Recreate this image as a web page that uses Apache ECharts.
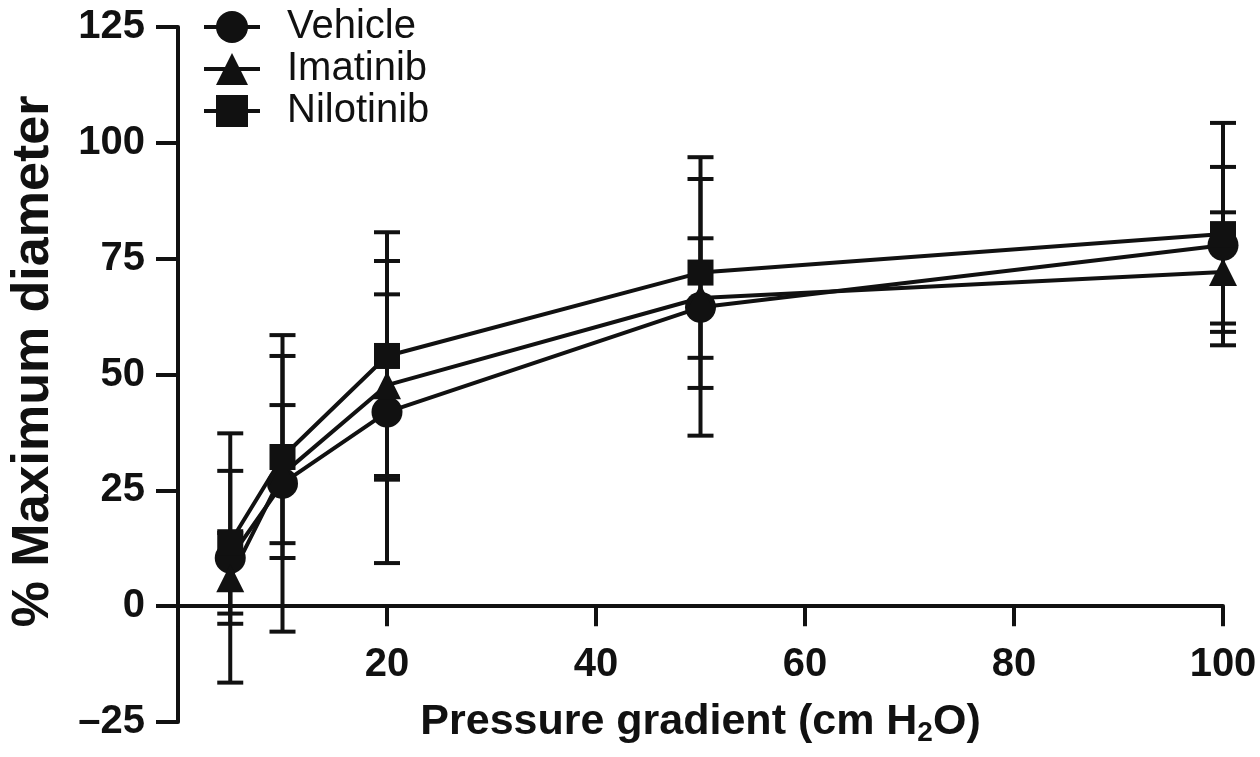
<!DOCTYPE html>
<html>
<head>
<meta charset="utf-8">
<script src="https://cdn.jsdelivr.net/npm/echarts@6/dist/echarts.min.js"></script>
<style>
html,body{margin:0;padding:0;background:#fff;}
#chart{width:1260px;height:757px;}
</style>
</head>
<body>
<div id="chart"></div>
<script>
// ---- data ----
const pressures = [5, 10, 20, 50, 100];
const seriesNames = ['Vehicle', 'Imatinib', 'Nilotinib'];
const vehicleMean = [10.4, 26.5, 41.9, 64.5, 77.9];
const vehicleSD = [26.9, 32.0, 32.6, 27.7, 16.9];
const imatinibMean = [6.0, 28.5, 47.7, 66.5, 72.1];
const imatinibSD = [9.8, 14.9, 19.6, 12.9, 12.9];
const nilotinibMean = [13.8, 32.2, 54.0, 72.0, 80.3];
const nilotinibSD = [15.4, 21.8, 26.7, 24.9, 24.0];
const xTicks = [20, 40, 60, 80, 100];
const yTicks = [-25, 0, 25, 50, 75, 100, 125];

const means = [vehicleMean, imatinibMean, nilotinibMean];
const sds = [vehicleSD, imatinibSD, nilotinibSD];
const symbols = ['circle', 'triangle', 'rect'];
const symbolSizes = [31, 28, 26];
const INK = '#111111';
const FONT = '"Liberation Sans", Arial, Helvetica, sans-serif';

const chart = echarts.init(document.getElementById('chart'));

const series = [];
means.forEach((m, i) => {
  series.push({
    type: 'custom',
    name: seriesNames[i] + ' SD',
    z: 2,
    silent: true,
    data: pressures.map((p, k) => [p, m[k], sds[i][k]]),
    encode: { x: 0, y: 1 },
    renderItem: function (params, api) {
      const x = api.value(0), mv = api.value(1), s = api.value(2);
      const top = api.coord([x, mv + s]);
      const bot = api.coord([x, mv - s]);
      const hw = 13;
      const st = { stroke: INK, lineWidth: 4 };
      return {
        type: 'group',
        children: [
          { type: 'line', shape: { x1: top[0], y1: top[1], x2: bot[0], y2: bot[1] }, style: st },
          { type: 'line', shape: { x1: top[0] - hw, y1: top[1], x2: top[0] + hw, y2: top[1] }, style: st },
          { type: 'line', shape: { x1: bot[0] - hw, y1: bot[1], x2: bot[0] + hw, y2: bot[1] }, style: st }
        ]
      };
    }
  });
});
means.forEach((m, i) => {
  series.push({
    type: 'line',
    name: seriesNames[i],
    z: 5,
    data: pressures.map((p, k) => [p, m[k]]),
    symbol: symbols[i],
    symbolSize: symbolSizes[i],
    showAllSymbol: true,
    lineStyle: { color: INK, width: 4 },
    itemStyle: { color: INK, borderWidth: 0 },
    emphasis: { disabled: true },
    animation: false
  });
});

chart.setOption({
  animation: false,
  backgroundColor: '#ffffff',
  textStyle: { fontFamily: FONT },
  grid: { left: 178, right: 37, top: 27, bottom: 35, containLabel: false, outerBoundsMode: 'none' },
  legend: {
    data: seriesNames,
    orient: 'vertical',
    left: 197,
    top: 2,
    itemWidth: 56,
    itemHeight: 40,
    itemGap: 2,
    lineStyle: { width: 4, color: INK },
    textStyle: { fontSize: 40, lineHeight: 40, color: INK, fontFamily: FONT, padding: [0, 0, 0, 22] },
    selectedMode: false
  },
  xAxis: {
    type: 'value',
    min: 0,
    max: 100,
    interval: 20,
    name: 'Pressure gradient (cm H{sub|2}O)',
    nameLocation: 'middle',
    nameGap: -25,
    nameTextStyle: {
      fontSize: 43, fontWeight: 'bold', color: INK, fontFamily: FONT,
      rich: { sub: { fontSize: 28, fontWeight: 'bold', color: INK, verticalAlign: 'bottom', padding: [22, 0, 0, 0], fontFamily: FONT } }
    },
    axisLine: { show: true, onZero: true, lineStyle: { color: INK, width: 4 } },
    axisTick: { show: true, length: 20, lineStyle: { color: INK, width: 4 } },
    axisLabel: {
      fontSize: 40, fontWeight: 'bold', color: INK, margin: -77, fontFamily: FONT,
      formatter: v => (xTicks.indexOf(v) >= 0 ? String(v) : '')
    },
    splitLine: { show: false }
  },
  yAxis: {
    type: 'value',
    min: -25,
    max: 125,
    interval: 25,
    name: '% Maximum diameter',
    nameLocation: 'middle',
    nameGap: 118,
    nameTextStyle: { fontSize: 52, fontWeight: 'bold', color: INK, fontFamily: FONT, padding: [0, 0, 0, 26] },
    axisLine: { show: true, lineStyle: { color: INK, width: 4 } },
    axisTick: { show: true, length: 22, lineStyle: { color: INK, width: 4 } },
    axisLabel: {
      fontSize: 40, fontWeight: 'bold', color: INK, margin: 33, fontFamily: FONT,
      formatter: v => (yTicks.indexOf(v) >= 0 ? (v < 0 ? '\u2013' + Math.abs(v) : String(v)) : '')
    },
    splitLine: { show: false }
  },
  series: series
});
</script>
</body>
</html>
